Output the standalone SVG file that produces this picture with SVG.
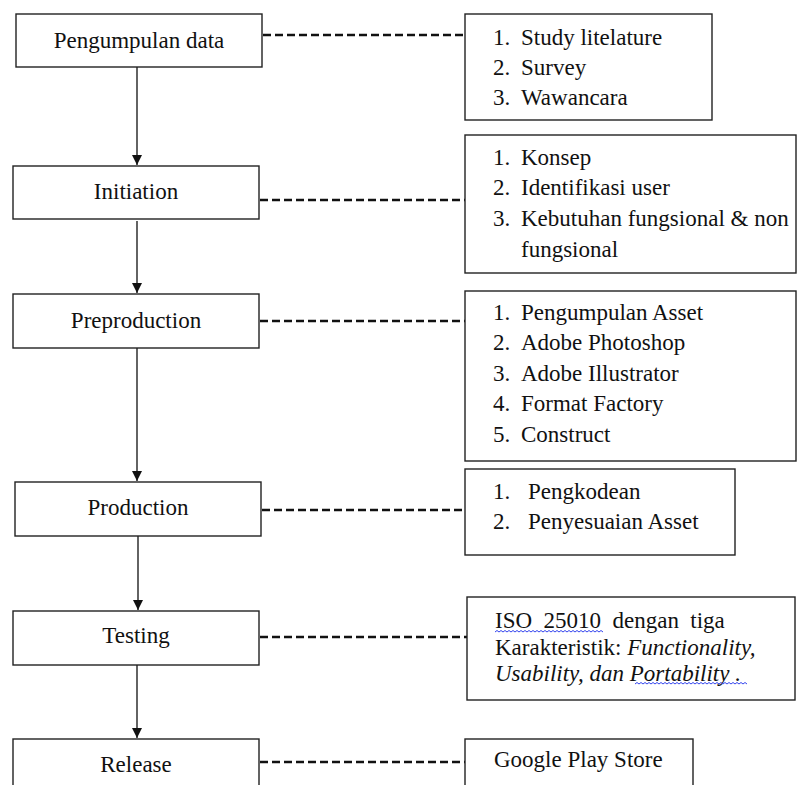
<svg xmlns="http://www.w3.org/2000/svg" width="798" height="785" viewBox="0 0 798 785">
<style>
.box{fill:#fff;stroke:#222;stroke-width:1.4}
.t{font-size:23px;fill:#111}
.c{text-anchor:middle}
.i{font-style:italic}
.dash{stroke:#111;stroke-width:2.6;stroke-dasharray:8 4;fill:none}
.arr{stroke:#222;stroke-width:1.4;fill:none;marker-end:url(#ah)}
.sq{stroke:#3344ee;stroke-width:1;fill:none}
</style>
<defs>
<marker id="ah" markerUnits="userSpaceOnUse" markerWidth="10" markerHeight="10" refX="10" refY="5" orient="auto">
<path d="M0,0 L10,5 L0,10 z" fill="#111"/>
</marker>
</defs>
<rect width="798" height="785" fill="#fff"/>
<g id="connectors">
<line class="arr" x1="137" y1="67" x2="137" y2="165"/>
<line class="arr" x1="137" y1="221" x2="137" y2="293"/>
<line class="arr" x1="137" y1="348" x2="137" y2="481"/>
<line class="arr" x1="138" y1="536" x2="138" y2="610"/>
<line class="arr" x1="137" y1="665" x2="137" y2="738"/>
<line class="dash" x1="263" y1="35" x2="465" y2="35"/>
<line class="dash" x1="260" y1="200" x2="465" y2="200"/>
<line class="dash" x1="260" y1="321" x2="465" y2="321"/>
<line class="dash" x1="262" y1="510" x2="465" y2="510"/>
<line class="dash" x1="260" y1="637" x2="467" y2="637"/>
<line class="dash" x1="260" y1="762" x2="465" y2="762"/>
</g>
<g font-family="'Liberation Serif', Tinos, 'Times New Roman', 'DejaVu Serif', serif">
<g id="node-pengumpulan">
<rect class="box" x="16" y="14" width="246" height="53"/>
<text class="t c" x="139" y="48">Pengumpulan data</text>
</g>
<g id="node-initiation">
<rect class="box" x="13" y="166" width="246" height="53"/>
<text class="t c" x="136" y="199">Initiation</text>
</g>
<g id="node-preproduction">
<rect class="box" x="13" y="294" width="246" height="54"/>
<text class="t c" x="136" y="328">Preproduction</text>
</g>
<g id="node-production">
<rect class="box" x="15" y="482" width="246" height="54"/>
<text class="t c" x="138" y="515">Production</text>
</g>
<g id="node-testing">
<rect class="box" x="13" y="611" width="246" height="54"/>
<text class="t c" x="136" y="643">Testing</text>
</g>
<g id="node-release">
<rect class="box" x="13" y="739" width="246" height="60"/>
<text class="t c" x="136" y="772">Release</text>
</g>
<g id="note-pengumpulan">
<rect class="box" x="465" y="14" width="247" height="106"/>
<text class="t" x="493" y="45">1.</text><text class="t" x="521" y="45">Study litelature</text>
<text class="t" x="493" y="75">2.</text><text class="t" x="521" y="75">Survey</text>
<text class="t" x="493" y="105">3.</text><text class="t" x="521" y="105">Wawancara</text>
</g>
<g id="note-initiation">
<rect class="box" x="465" y="135" width="331" height="138"/>
<text class="t" x="493" y="165">1.</text><text class="t" x="521" y="165">Konsep</text>
<text class="t" x="493" y="195">2.</text><text class="t" x="521" y="195">Identifikasi user</text>
<text class="t" x="493" y="226">3.</text><text class="t" x="521" y="226">Kebutuhan fungsional &amp; non</text>
<text class="t" x="521" y="257">fungsional</text>
</g>
<g id="note-preproduction">
<rect class="box" x="465" y="291" width="331" height="170"/>
<text class="t" x="493" y="320">1.</text><text class="t" x="521" y="320">Pengumpulan Asset</text>
<text class="t" x="493" y="350">2.</text><text class="t" x="521" y="350">Adobe Photoshop</text>
<text class="t" x="493" y="381">3.</text><text class="t" x="521" y="381">Adobe Illustrator</text>
<text class="t" x="493" y="411">4.</text><text class="t" x="521" y="411">Format Factory</text>
<text class="t" x="493" y="442">5.</text><text class="t" x="521" y="442">Construct</text>
</g>
<g id="note-production">
<rect class="box" x="465" y="469" width="270" height="86"/>
<text class="t" x="493" y="499">1.</text><text class="t" x="528" y="499">Pengkodean</text>
<text class="t" x="493" y="529">2.</text><text class="t" x="528" y="529">Penyesuaian Asset</text>
</g>
<g id="note-testing">
<rect class="box" x="467" y="597" width="328" height="103"/>
<text class="t" x="495" y="628" style="word-spacing:5.7px">ISO 25010 dengan tiga</text>
<text class="t" x="495" y="655">Karakteristik: <tspan class="i">Functionality,</tspan></text>
<text class="t i" x="495" y="681">Usability, dan Portability .</text>
<path class="sq" d="M495,632 l2,-1.5 l2,1.5 l2,-1.5 l2,1.5 l2,-1.5 l2,1.5 l2,-1.5 l2,1.5 l2,-1.5 l2,1.5 l2,-1.5 l2,1.5 l2,-1.5 l2,1.5 l2,-1.5 l2,1.5 l2,-1.5 l2,1.5 l2,-1.5 l2,1.5 l2,-1.5 l2,1.5 l2,-1.5 l2,1.5 l2,-1.5 l2,1.5 l2,-1.5 l2,1.5 l2,-1.5 l2,1.5 l2,-1.5 l2,1.5 l2,-1.5 l2,1.5 l2,-1.5 l2,1.5 l2,-1.5 l2,1.5 l2,-1.5 l2,1.5 l2,-1.5 l2,1.5 l2,-1.5 l2,1.5 l2,-1.5 l2,1.5 l2,-1.5 l2,1.5 l2,-1.5 l2,1.5 l2,-1.5 l2,1.5 l2,-1.5 l2,1.5"/>
<path class="sq" d="M635,684 l2,-1.5 l2,1.5 l2,-1.5 l2,1.5 l2,-1.5 l2,1.5 l2,-1.5 l2,1.5 l2,-1.5 l2,1.5 l2,-1.5 l2,1.5 l2,-1.5 l2,1.5 l2,-1.5 l2,1.5 l2,-1.5 l2,1.5 l2,-1.5 l2,1.5 l2,-1.5 l2,1.5 l2,-1.5 l2,1.5 l2,-1.5 l2,1.5 l2,-1.5 l2,1.5 l2,-1.5 l2,1.5 l2,-1.5 l2,1.5 l2,-1.5 l2,1.5 l2,-1.5 l2,1.5 l2,-1.5 l2,1.5 l2,-1.5 l2,1.5 l2,-1.5 l2,1.5 l2,-1.5 l2,1.5 l2,-1.5 l2,1.5 l2,-1.5 l2,1.5 l2,-1.5 l2,1.5 l2,-1.5 l2,1.5 l2,-1.5 l2,1.5 l2,-1.5 l2,1.5"/>
</g>
<g id="note-release">
<rect class="box" x="465" y="739" width="228" height="60"/>
<text class="t" x="494" y="767">Google Play Store</text>
</g>
</g>
</svg>
